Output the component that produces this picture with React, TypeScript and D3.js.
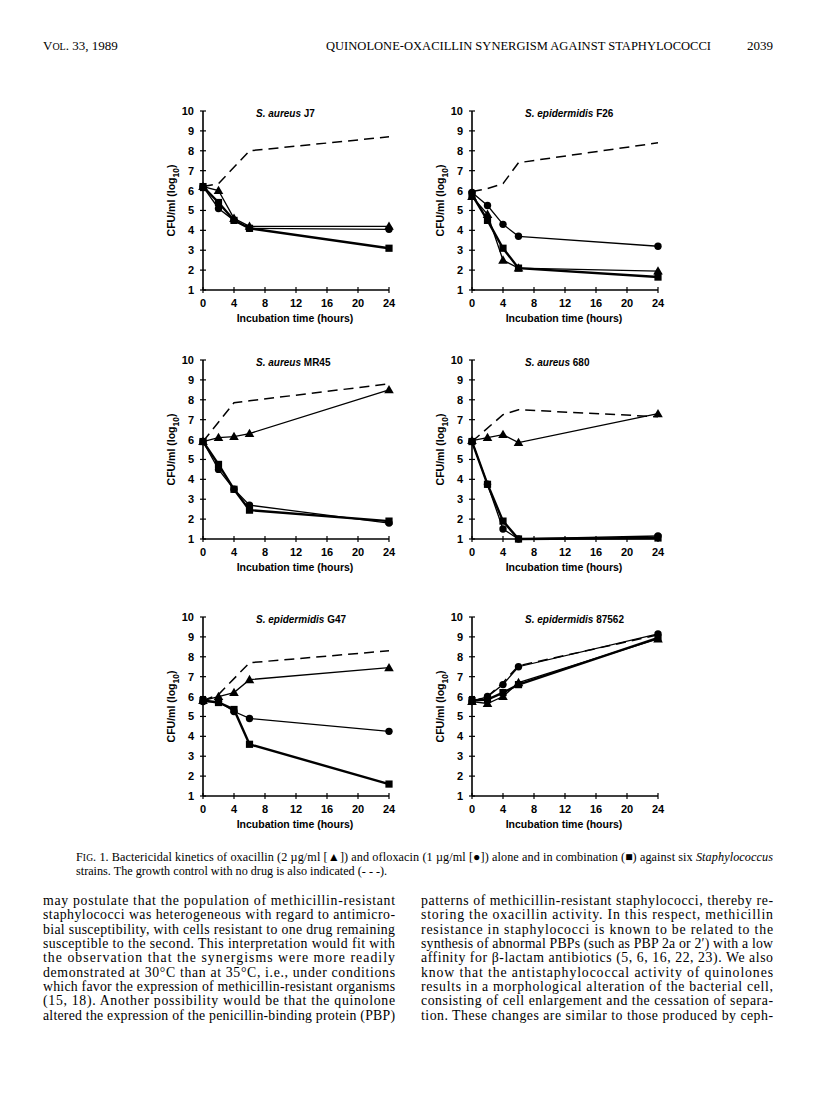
import React from "react";
import * as d3 from "d3";

// ---------- DATA ----------
const hours = [0, 2, 4, 6, 24];
const xTicks = [0, 4, 8, 12, 16, 20, 24];
const yTicks = [1, 2, 3, 4, 5, 6, 7, 8, 9, 10];

// S. aureus J7
const j7Control = [6.2, 6.35, null, 8.0, 8.7];
const j7Oxacillin = [6.2, 6.0, 4.6, 4.2, 4.2];
const j7Ofloxacin = [6.2, 5.1, 4.5, 4.1, 4.05];
const j7Combination = [6.2, 5.4, 4.5, 4.1, 3.1];

// S. epidermidis F26
const f26Control = [5.95, 6.1, 6.35, 7.4, 8.4];
const f26Oxacillin = [5.7, 4.8, 2.5, 2.1, 1.95];
const f26Ofloxacin = [5.9, 5.25, 4.3, 3.7, 3.2];
const f26Combination = [5.8, 4.5, 3.1, 2.1, 1.65];

// S. aureus MR45
const mr45Control = [5.9, null, 7.85, 7.95, 8.8];
const mr45Oxacillin = [5.9, 6.1, 6.15, 6.3, 8.5];
const mr45Ofloxacin = [5.9, 4.5, 3.5, 2.7, 1.8];
const mr45Combination = [5.9, 4.75, 3.5, 2.45, 1.9];

// S. aureus 680
const s680Control = [5.9, null, 7.25, 7.5, 7.15];
const s680Oxacillin = [5.95, 6.1, 6.25, 5.85, 7.3];
const s680Ofloxacin = [5.9, 3.75, 1.5, 1.0, 1.15];
const s680Combination = [5.9, 3.75, 1.9, 1.0, 1.05];

// S. epidermidis G47
const g47Control = [5.8, 6.1, null, 7.7, 8.3];
const g47Oxacillin = [5.8, 6.0, 6.2, 6.85, 7.45];
const g47Ofloxacin = [5.75, 5.75, 5.25, 4.9, 4.25];
const g47Combination = [5.8, 5.7, 5.35, 3.6, 1.6];

// S. epidermidis 87562
const e87562Control = [5.75, 6.0, 6.7, 7.55, 9.1];
const e87562Oxacillin = [5.75, 5.65, 6.0, 6.7, 8.9];
const e87562Ofloxacin = [5.75, 6.0, 6.6, 7.5, 9.15];
const e87562Combination = [5.8, 5.85, 6.2, 6.6, 8.95];

const panelTitles = [
  ["S. aureus", "J7"],
  ["S. epidermidis", "F26"],
  ["S. aureus", "MR45"],
  ["S. aureus", "680"],
  ["S. epidermidis", "G47"],
  ["S. epidermidis", "87562"],
];

const panelSeries = [
  [j7Control, j7Oxacillin, j7Ofloxacin, j7Combination],
  [f26Control, f26Oxacillin, f26Ofloxacin, f26Combination],
  [mr45Control, mr45Oxacillin, mr45Ofloxacin, mr45Combination],
  [s680Control, s680Oxacillin, s680Ofloxacin, s680Combination],
  [g47Control, g47Oxacillin, g47Ofloxacin, g47Combination],
  [e87562Control, e87562Oxacillin, e87562Ofloxacin, e87562Combination],
];

const leftColumn = [
  "may postulate that the population of methicillin-resistant",
  "staphylococci was heterogeneous with regard to antimicro-",
  "bial susceptibility, with cells resistant to one drug remaining",
  "susceptible to the second. This interpretation would fit with",
  "the observation that the synergisms were more readily",
  "demonstrated at 30°C than at 35°C, i.e., under conditions",
  "which favor the expression of methicillin-resistant organisms",
  "(15, 18). Another possibility would be that the quinolone",
  "altered the expression of the penicillin-binding protein (PBP)",
];
const rightColumn = [
  "patterns of methicillin-resistant staphylococci, thereby re-",
  "storing the oxacillin activity. In this respect, methicillin",
  "resistance in staphylococci is known to be related to the",
  "synthesis of abnormal PBPs (such as PBP 2a or 2′) with a low",
  "affinity for β-lactam antibiotics (5, 6, 16, 22, 23). We also",
  "know that the antistaphylococcal activity of quinolones",
  "results in a morphological alteration of the bacterial cell,",
  "consisting of cell enlargement and the cessation of separa-",
  "tion. These changes are similar to those produced by ceph-",
];

// ---------- LAYOUT ----------
const colX = [203, 472];
const rowTop = [111, 360, 617];
const plotW = 186;
const plotH = 179;
const sans = "'Liberation Sans', Arial, sans-serif";
const serif = "'Liberation Serif', 'Times New Roman', serif";

function Marker({ kind, x, y }: { kind: string; x: number; y: number }) {
  if (kind === "circle") return <circle cx={x} cy={y} r={3.7} fill="#000" />;
  if (kind === "square") return <rect x={x - 3.6} y={y - 3.6} width={7.2} height={7.2} fill="#000" />;
  if (kind === "triangle")
    return <path d={`M${x},${y - 4.8} L${x + 4.8},${y + 3.5} L${x - 4.8},${y + 3.5} Z`} fill="#000" />;
  return null;
}

function Panel({ index }: { index: number }) {
  const col = index % 2;
  const row = Math.floor(index / 2);
  const x0 = colX[col];
  const top = rowTop[row];
  const x = d3.scaleLinear().domain([0, 24]).range([x0, x0 + plotW]);
  const y = d3.scaleLinear().domain([1, 10]).range([top + plotH, top]);
  const series = panelSeries[index];
  const line = d3
    .line<[number, number]>()
    .x((d) => x(d[0]))
    .y((d) => y(d[1]));
  const pts = (vals: (number | null)[]) =>
    hours
      .map((h, i) => [h, vals[i]] as [number, number | null])
      .filter((d) => d[1] !== null) as [number, number][];
  const kinds = ["none", "triangle", "circle", "square"];
  const widths = [1.5, 1.3, 1.3, 2.4];
  const base = y(1);
  const [species, strain] = panelTitles[index];
  return (
    <g>
      <line x1={x0} x2={x0} y1={y(10)} y2={base} stroke="#000" strokeWidth={1.6} />
      <line x1={x0} x2={x(24)} y1={base} y2={base} stroke="#000" strokeWidth={1.6} />
      {yTicks.map((t) => (
        <g key={"y" + t}>
          <line x1={x0 - 3} x2={x0 + 3} y1={y(t)} y2={y(t)} stroke="#000" strokeWidth={1.2} />
          <text x={x0 - 9} y={y(t) + 4} textAnchor="end" fontFamily={sans} fontWeight="bold" fontSize={11}>
            {t}
          </text>
        </g>
      ))}
      {xTicks.map((t) => (
        <g key={"x" + t}>
          <line x1={x(t)} x2={x(t)} y1={base - 3} y2={base + 3} stroke="#000" strokeWidth={1.2} />
          <text x={x(t)} y={base + 17} textAnchor="middle" fontFamily={sans} fontWeight="bold" fontSize={11}>
            {t}
          </text>
        </g>
      ))}
      <text x={x0 + plotW / 2 - 1} y={base + 32} textAnchor="middle" fontFamily={sans} fontWeight="bold" fontSize={10.5}>
        Incubation time (hours)
      </text>
      <text
        transform={`translate(${x0 - 28},${top + plotH / 2}) rotate(-90)`}
        textAnchor="middle"
        fontFamily={sans}
        fontWeight="bold"
        fontSize={10.5}
      >
        CFU/ml (log
        <tspan dy={4} fontSize={8.5}>10</tspan>
        <tspan dy={-4}>)</tspan>
      </text>
      <text x={x0 + 53} y={top + 6} fontFamily={sans} fontWeight="bold" fontSize={10}>
        <tspan fontStyle="italic">{species}</tspan> {strain}
      </text>
      {series.map((vals, si) => (
        <path
          key={"l" + si}
          d={line(pts(vals)) || ""}
          fill="none"
          stroke="#000"
          strokeWidth={widths[si]}
          strokeDasharray={si === 0 ? "10,6" : undefined}
        />
      ))}
      {series.map((vals, si) =>
        si === 0
          ? null
          : pts(vals).map((d, i) => <Marker key={`m${si}-${i}`} kind={kinds[si]} x={x(d[0])} y={y(d[1])} />)
      )}
    </g>
  );
}

function Column({ lines, x, width }: { lines: string[]; x: number; width: number }) {
  return (
    <g>
      {lines.map((l, i) => (
        <text
          key={i}
          x={x}
          y={905 + i * 14.35}
          fontFamily={serif}
          fontSize={13.8}
          textLength={width}
          lengthAdjust="spacing"
        >
          {l}
        </text>
      ))}
    </g>
  );
}

export default function App() {
  return (
    <div style={{ position: "absolute", left: 0, top: 0 }}>
      <svg width={816} height={1093} style={{ display: "block", background: "#fff" }}>
        <rect width={816} height={1093} fill="#fff" />
        <text x={43} y={50} fontFamily={serif} fontSize={13}>
          V<tspan fontSize={10}>OL</tspan>. 33, 1989
        </text>
        <text x={326} y={50} fontFamily={serif} fontSize={12.5} textLength={385} lengthAdjust="spacingAndGlyphs">
          QUINOLONE-OXACILLIN SYNERGISM AGAINST STAPHYLOCOCCI
        </text>
        <text x={773} y={50} textAnchor="end" fontFamily={serif} fontSize={13}>
          2039
        </text>
        {panelSeries.map((_, i) => (
          <Panel key={i} index={i} />
        ))}
        <text x={76} y={861} fontFamily={serif} fontSize={12.2} textLength={697} lengthAdjust="spacing">
          F<tspan fontSize={9.5}>IG</tspan>. 1. Bactericidal kinetics of oxacillin (2 µg/ml [▲]) and ofloxacin (1 µg/ml [●]) alone and in combination (■) against six{" "}
          <tspan fontStyle="italic">Staphylococcus</tspan>
        </text>
        <text x={76} y={875} fontFamily={serif} fontSize={12.2}>
          strains. The growth control with no drug is also indicated (- - -).
        </text>
        <Column lines={leftColumn} x={43} width={352} />
        <Column lines={rightColumn} x={421} width={352} />
      </svg>
    </div>
  );
}
